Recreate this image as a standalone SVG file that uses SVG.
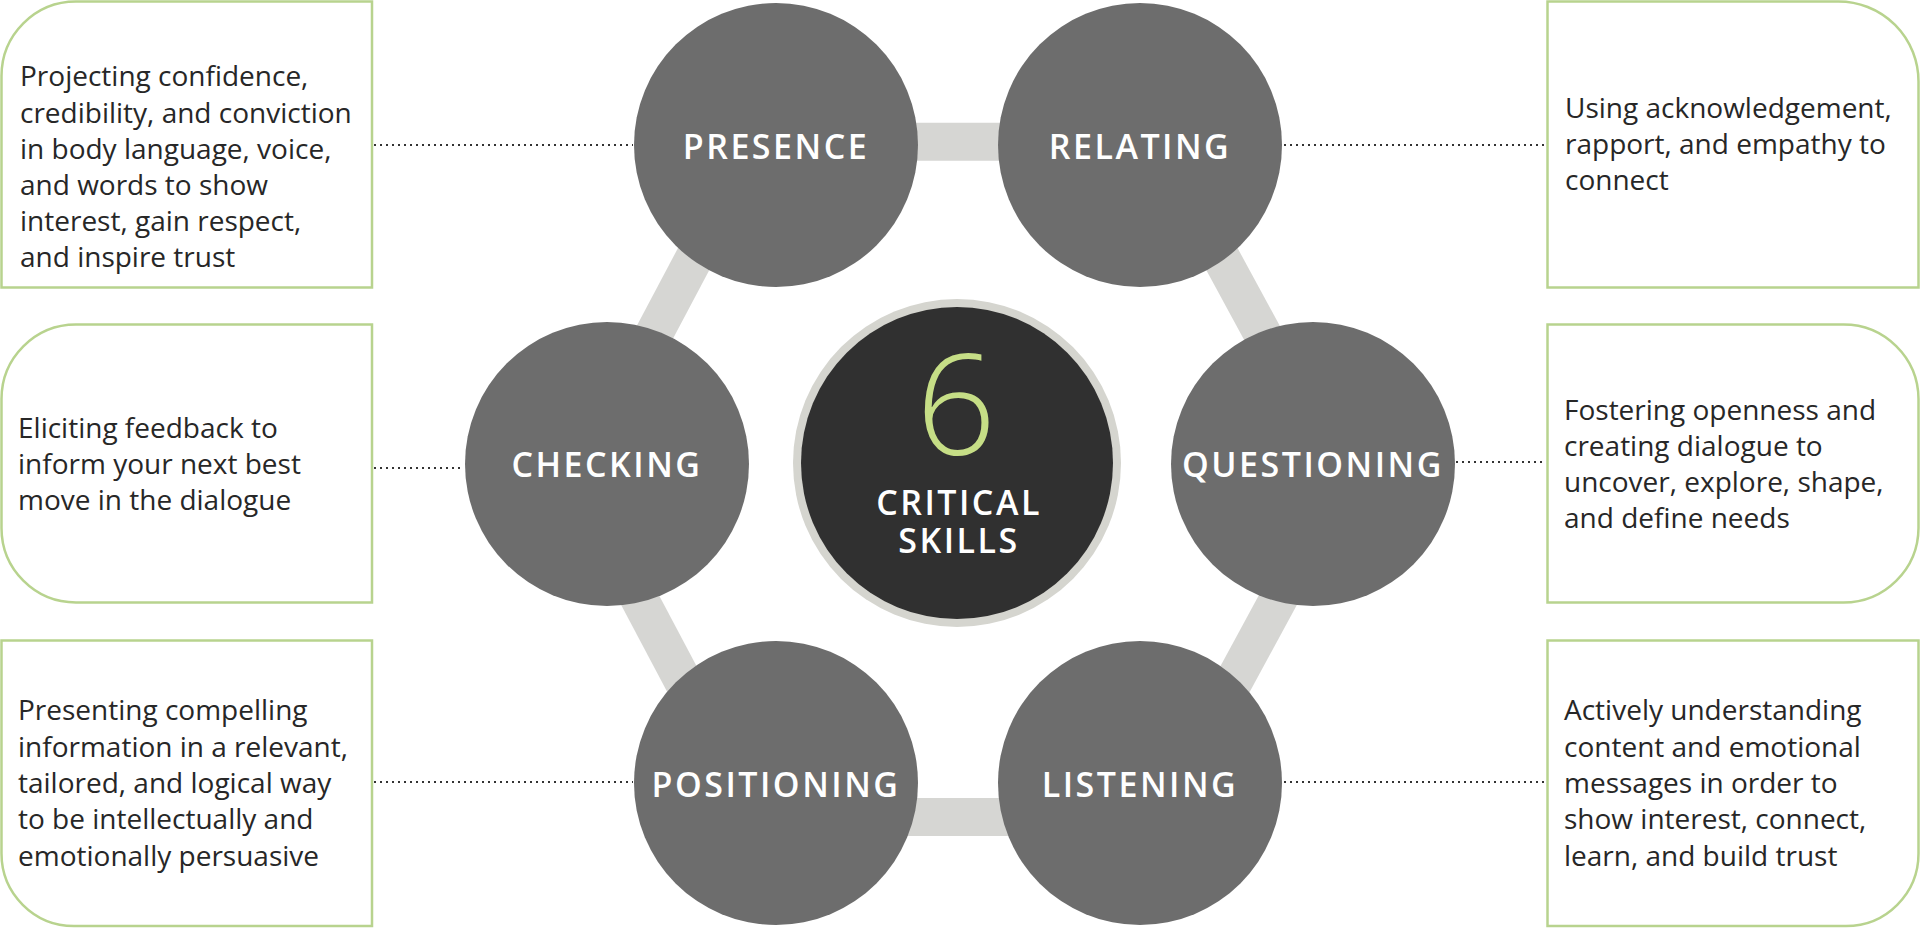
<svg xmlns="http://www.w3.org/2000/svg" width="1920" height="928" viewBox="0 0 1920 928">
<style>
.box{fill:#ffffff;stroke:#b8d38e;stroke-width:2.5}
.desc{font-family:"Open Sans","Noto Sans",sans-serif;font-size:28px;fill:#272727}
.node{fill:#6d6d6d}
.lbl{font-family:"Open Sans","Noto Sans",sans-serif;font-size:34px;font-weight:600;fill:#ffffff;text-anchor:middle;letter-spacing:2.5px}
.bar{stroke:#d6d6d3;stroke-width:38;stroke-linecap:butt}
.dot{stroke:#333333;stroke-width:2;stroke-dasharray:2 4;fill:none}
</style>
<rect width="1920" height="928" fill="#ffffff"/>
<g id="connectors">
<line class="bar" x1="776" y1="141.7" x2="1140" y2="141.7"/>
<line class="bar" x1="776" y1="817" x2="1140" y2="817"/>
<line class="bar" x1="758.9" y1="135.9" x2="589.9" y2="454.9"/>
<line class="bar" x1="576.5" y1="480.1" x2="745.5" y2="799.1"/>
<line class="bar" x1="1155.5" y1="136.6" x2="1328.5" y2="455.6"/>
<line class="bar" x1="1342.9" y1="480.2" x2="1169.9" y2="799.2"/>
<line class="dot" x1="374" y1="145" x2="633" y2="145"/>
<line class="dot" x1="1284" y1="145" x2="1546" y2="145"/>
<line class="dot" x1="374" y1="468" x2="464" y2="468"/>
<line class="dot" x1="1456" y1="462" x2="1546" y2="462"/>
<line class="dot" x1="374" y1="782" x2="633" y2="782"/>
<line class="dot" x1="1284" y1="782" x2="1546" y2="782"/>
</g>
<g id="box-presence">
<path class="box" d="M1.5,287.5 V76 A74.5,74.5 0 0 1 76,1.5 H372 V287.5 Z"/>
<text class="desc" x="20" y="86">Projecting confidence,</text>
<text class="desc" x="20" y="122.5">credibility, and conviction</text>
<text class="desc" x="20" y="158.5">in body language, voice,</text>
<text class="desc" x="20" y="195">and words to show</text>
<text class="desc" x="20" y="231">interest, gain respect,</text>
<text class="desc" x="20" y="267">and inspire trust</text>
</g>
<g id="box-relating">
<path class="box" d="M1547.5,287.5 V1.5 H1838 A80,80 0 0 1 1918.5,82 V287.5 Z"/>
<text class="desc" x="1565" y="118">Using acknowledgement,</text>
<text class="desc" x="1565" y="154">rapport, and empathy to</text>
<text class="desc" x="1565" y="190">connect</text>
</g>
<g id="box-checking">
<path class="box" d="M76,324.5 H372 V602.5 H76 A74.5,74.5 0 0 1 1.5,528 V399 A74.5,74.5 0 0 1 76,324.5 Z"/>
<text class="desc" x="18" y="438">Eliciting feedback to</text>
<text class="desc" x="18" y="474">inform your next best</text>
<text class="desc" x="18" y="510">move in the dialogue</text>
</g>
<g id="box-questioning">
<path class="box" d="M1547.5,324.5 H1843 A75,75 0 0 1 1918.5,399 V528 A75,75 0 0 1 1843,602.5 H1547.5 Z"/>
<text class="desc" x="1564" y="420">Fostering openness and</text>
<text class="desc" x="1564" y="456">creating dialogue to</text>
<text class="desc" x="1564" y="492">uncover, explore, shape,</text>
<text class="desc" x="1564" y="528">and define needs</text>
</g>
<g id="box-positioning">
<path class="box" d="M1.5,640.5 H372 V926 H74 A72.5,72.5 0 0 1 1.5,853.5 Z"/>
<text class="desc" x="18" y="720">Presenting compelling</text>
<text class="desc" x="18" y="756.5">information in a relevant,</text>
<text class="desc" x="18" y="793">tailored, and logical way</text>
<text class="desc" x="18" y="829">to be intellectually and</text>
<text class="desc" x="18" y="865.5">emotionally persuasive</text>
</g>
<g id="box-listening">
<path class="box" d="M1547.5,640.5 H1918.5 V853.5 A72.5,72.5 0 0 1 1846,926 H1547.5 Z"/>
<text class="desc" x="1564" y="720">Actively understanding</text>
<text class="desc" x="1564" y="756.5">content and emotional</text>
<text class="desc" x="1564" y="793">messages in order to</text>
<text class="desc" x="1564" y="829">show interest, connect,</text>
<text class="desc" x="1564" y="865.5">learn, and build trust</text>
</g>
<g id="node-presence">
<circle class="node" cx="776" cy="145" r="142"/>
<text class="lbl" x="776" y="159">PRESENCE</text>
</g>
<g id="node-relating">
<circle class="node" cx="1140" cy="145" r="142"/>
<text class="lbl" x="1140" y="159">RELATING</text>
</g>
<g id="node-checking">
<circle class="node" cx="607" cy="464" r="142"/>
<text class="lbl" x="607" y="477">CHECKING</text>
</g>
<g id="node-questioning">
<circle class="node" cx="1313" cy="464" r="142"/>
<text class="lbl" x="1313" y="477">QUESTIONING</text>
</g>
<g id="node-positioning">
<circle class="node" cx="776" cy="783" r="142"/>
<text class="lbl" x="776" y="797">POSITIONING</text>
</g>
<g id="node-listening">
<circle class="node" cx="1140" cy="783" r="142"/>
<text class="lbl" x="1140" y="797">LISTENING</text>
</g>
<g id="node-center">
<circle cx="957" cy="463" r="164" fill="#d5d5cf"/>
<circle cx="957" cy="463" r="156" fill="#303030"/>
<text x="956" y="455" font-family="Open Sans, Noto Sans, sans-serif" font-size="140" font-weight="300" fill="#c6de86" text-anchor="middle">6</text>
<text class="lbl" x="959" y="515" font-size="36" letter-spacing="2">CRITICAL</text>
<text class="lbl" x="959" y="553" font-size="36" letter-spacing="2">SKILLS</text>
</g>
</svg>
